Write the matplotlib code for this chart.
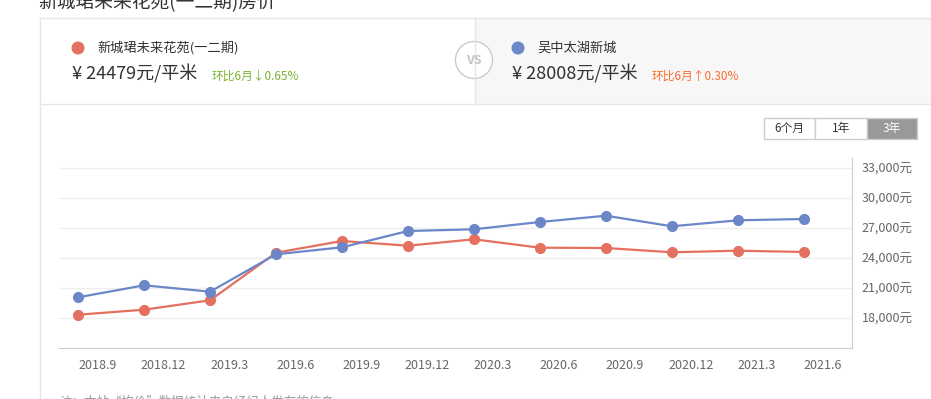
import numpy as np
import matplotlib
matplotlib.use('Agg')
import matplotlib.pyplot as plt
from matplotlib.patches import Rectangle, Circle

plt.rcParams['font.family'] = ['Noto Sans CJK SC', 'DejaVu Sans']

# data
months = ['2018.9', '2018.12', '2019.3', '2019.6', '2019.9', '2019.12',
          '2020.3', '2020.6', '2020.9', '2020.12', '2021.3', '2021.6']
red_name = '新城珺未来花苑(一二期)'
blue_name = '吴中太湖新城'
red_vals = [18330, 18830, 19770, 24530, 25700, 25230,
            25870, 25030, 25000, 24570, 24730, 24600]
blue_vals = [20070, 21270, 20630, 24370, 25070, 26700,
             26870, 27600, 28230, 27170, 27770, 27900]
yticks = [18000, 21000, 24000, 27000, 30000, 33000]
ranges = ['6个月', '1年', '3年']

RED = '#e4705f'
BLUE = '#6b87c8'
W, H = 931, 399

fig = plt.figure(figsize=(W / 100, H / 100), dpi=100)

# background layer in pixel coordinates
bg = fig.add_axes([0, 0, 1, 1])
bg.set_xlim(0, W)
bg.set_ylim(H, 0)
bg.axis('off')

bg.text(38, 8, '新城珺未来花苑(一二期)房价', fontsize=13.5, color='#333333',
        va='baseline', ha='left')

bg.add_patch(Rectangle((475, 18), W - 475 + 5, 86, facecolor='#f7f7f7',
                       edgecolor='none'))
bg.plot([40, 40], [18, H + 5], color='#e6e6e6', lw=1)
bg.plot([40, W + 5], [18, 18], color='#e6e6e6', lw=1)
bg.plot([40, W + 5], [104, 104], color='#e6e6e6', lw=1)
bg.plot([475, 475], [18, 104], color='#e6e6e6', lw=1)

bg.add_patch(Circle((474, 60), 18.5, facecolor='white', edgecolor='#cccccc', lw=1))
bg.text(474, 61, 'VS', fontsize=9, color='#c4c4c4', ha='center', va='center',
        fontweight='bold')

# left card
bg.add_patch(Circle((78, 48), 6.5, facecolor=RED, edgecolor='none'))
bg.text(97, 48, red_name, fontsize=9.5, color='#333333', va='center')
bg.text(72, 74, '¥ 24479元/平米', fontsize=13, color='#333333', va='center')
bg.text(212, 76, '环比6月↓0.65%', fontsize=8.5, color='#7cb32e', va='center')

# right card
bg.add_patch(Circle((518, 48), 6.5, facecolor=BLUE, edgecolor='none'))
bg.text(537, 48, blue_name, fontsize=9.5, color='#333333', va='center')
bg.text(512, 74, '¥ 28008元/平米', fontsize=13, color='#333333', va='center')
bg.text(652, 76, '环比6月↑0.30%', fontsize=8.5, color='#ff6a2c', va='center')

# range buttons
edges = [764, 815, 867, 917]
for i, lab in enumerate(ranges):
    sel = i == len(ranges) - 1
    bg.add_patch(Rectangle((edges[i], 118), edges[i + 1] - edges[i], 21,
                           facecolor='#999999' if sel else 'white',
                           edgecolor='#cccccc', lw=1))
    bg.text((edges[i] + edges[i + 1]) / 2, 128.5, lab, fontsize=8.5,
            color='white' if sel else '#333333', ha='center', va='center')

bg.text(59, 402, '注：本站“均价”数据统计来自经纪人发布的信息', fontsize=9,
        color='#999999', va='center')

# chart
x0, x1, y0, y1 = 59, 852, 158, 348
ax = fig.add_axes([x0 / W, (H - y1) / H, (x1 - x0) / W, (y1 - y0) / H])
ax.patch.set_alpha(0)
x = np.arange(len(months))
ax.plot(x, red_vals, color=RED, lw=1.6, marker='o', ms=7, zorder=3)
ax.plot(x, blue_vals, color=BLUE, lw=1.6, marker='o', ms=7, zorder=3)

ax.set_xlim(-0.29, 11.73)
ax.set_ylim(15000, 34000)
ax.set_xticks(x + 0.29)
ax.set_xticklabels(months)
ax.set_yticks(yticks)
ax.set_yticklabels(['{:,}元'.format(v) for v in yticks])
ax.yaxis.tick_right()
ax.tick_params(axis='both', length=0, labelsize=9, colors='#666666')
ax.tick_params(axis='x', pad=8)
ax.tick_params(axis='y', pad=7)
ax.grid(axis='y', color='#eeeeee', lw=1)
ax.set_axisbelow(True)
for s in ['top', 'left']:
    ax.spines[s].set_visible(False)
for s in ['bottom', 'right']:
    ax.spines[s].set_color('#cccccc')

fig.savefig('out.png', dpi=100)
